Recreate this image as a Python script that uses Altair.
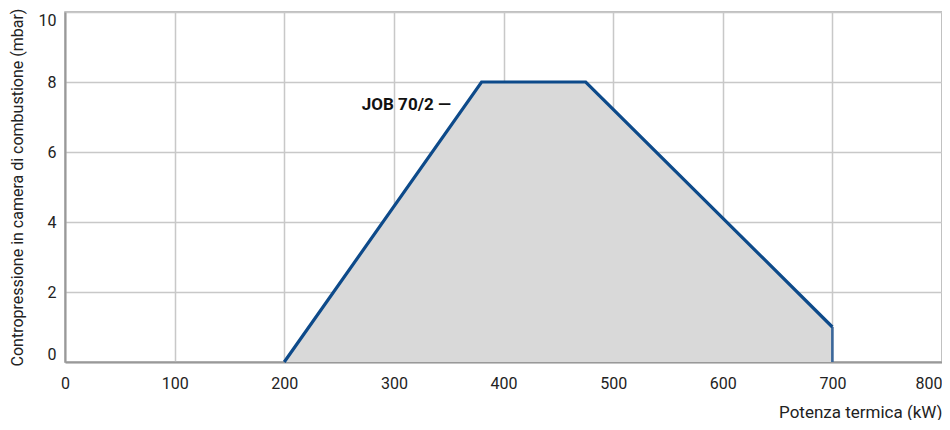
import altair as alt
import pandas as pd

# Data
area_x = [200, 380, 475, 700]
area_y = [0, 8, 8, 1]
line_x = [200, 380, 475, 700]
line_y = [0, 8, 8, 1]
edge_x = [700]
edge_y = [0]
edge_y2 = [1]
label_text = ["JOB 70/2 \u2014"]
label_x = [352]
label_y = [7.35]

FONT = "Roboto, Liberation Sans"

area_df = pd.DataFrame({"x": area_x, "y": area_y})
line_df = pd.DataFrame({"x": line_x, "y": line_y, "o": list(range(len(line_x)))})
edge_df = pd.DataFrame({"x": edge_x, "y": edge_y, "y2": edge_y2})
label_df = pd.DataFrame({"x": label_x, "y": label_y, "t": label_text})

xscale = alt.Scale(domain=[0, 800], nice=False, zero=False)
yscale = alt.Scale(domain=[0, 10], nice=False)

xaxis = alt.Axis(
    values=[0, 100, 200, 300, 400, 500, 600, 700, 800],
    title="Potenza termica (kW)",
    titleAnchor="end", titleAlign="right", titleFontWeight="normal",
    titleFontSize=17, titleFont=FONT, titleColor="#222", titlePadding=13,
    labelFontSize=16, labelFont=FONT, labelColor="#222", labelPadding=13,
    labelAlign=alt.expr("datum.value == 800 ? 'right' : 'center'"),
    ticks=False, domainColor="#999", domainWidth=2,
    gridColor="#c8c8c8", gridWidth=1.5,
)
yaxis = alt.Axis(
    values=[0, 2, 4, 6, 8, 10],
    title="Contropressione in camera di combustione (mbar)",
    titleFontWeight="normal", titleFontSize=16, titleFont=FONT, titleColor="#222",
    titlePadding=13,
    labelFontSize=16, labelFont=FONT, labelColor="#222", labelPadding=9,
    labelFlush=True,
    ticks=False, domainColor="#999", domainWidth=2,
    gridColor="#c8c8c8", gridWidth=1.5,
)

area = alt.Chart(area_df).mark_area(color="#d9d9d9", opacity=1).encode(
    x=alt.X("x:Q", scale=xscale, axis=xaxis),
    y=alt.Y("y:Q", scale=yscale, axis=yaxis),
)
line = alt.Chart(line_df).mark_line(color="#0d4a8a", strokeWidth=3.2).encode(
    x=alt.X("x:Q", scale=xscale),
    y=alt.Y("y:Q", scale=yscale),
    order="o:Q",
)
edge = alt.Chart(edge_df).mark_rule(color="#3b679a", strokeWidth=2.6).encode(
    x=alt.X("x:Q", scale=xscale),
    y=alt.Y("y:Q", scale=yscale),
    y2="y2:Q",
)
label = alt.Chart(label_df).mark_text(
    align="right", baseline="middle", fontSize=17, fontWeight="bold",
    font=FONT, color="#111",
).encode(
    x=alt.X("x:Q", scale=xscale),
    y=alt.Y("y:Q", scale=yscale),
    text="t:N",
)

chart = (area + edge + line + label).properties(
    width=877, height=350,
    autosize=alt.AutoSizeParams(type="none"),
    padding={"left": 57, "top": 4, "right": 0, "bottom": 58},
).configure_view(stroke="#aaa", strokeWidth=1.5)

chart.save("out.html", embed_options={"renderer": "svg", "actions": False})
